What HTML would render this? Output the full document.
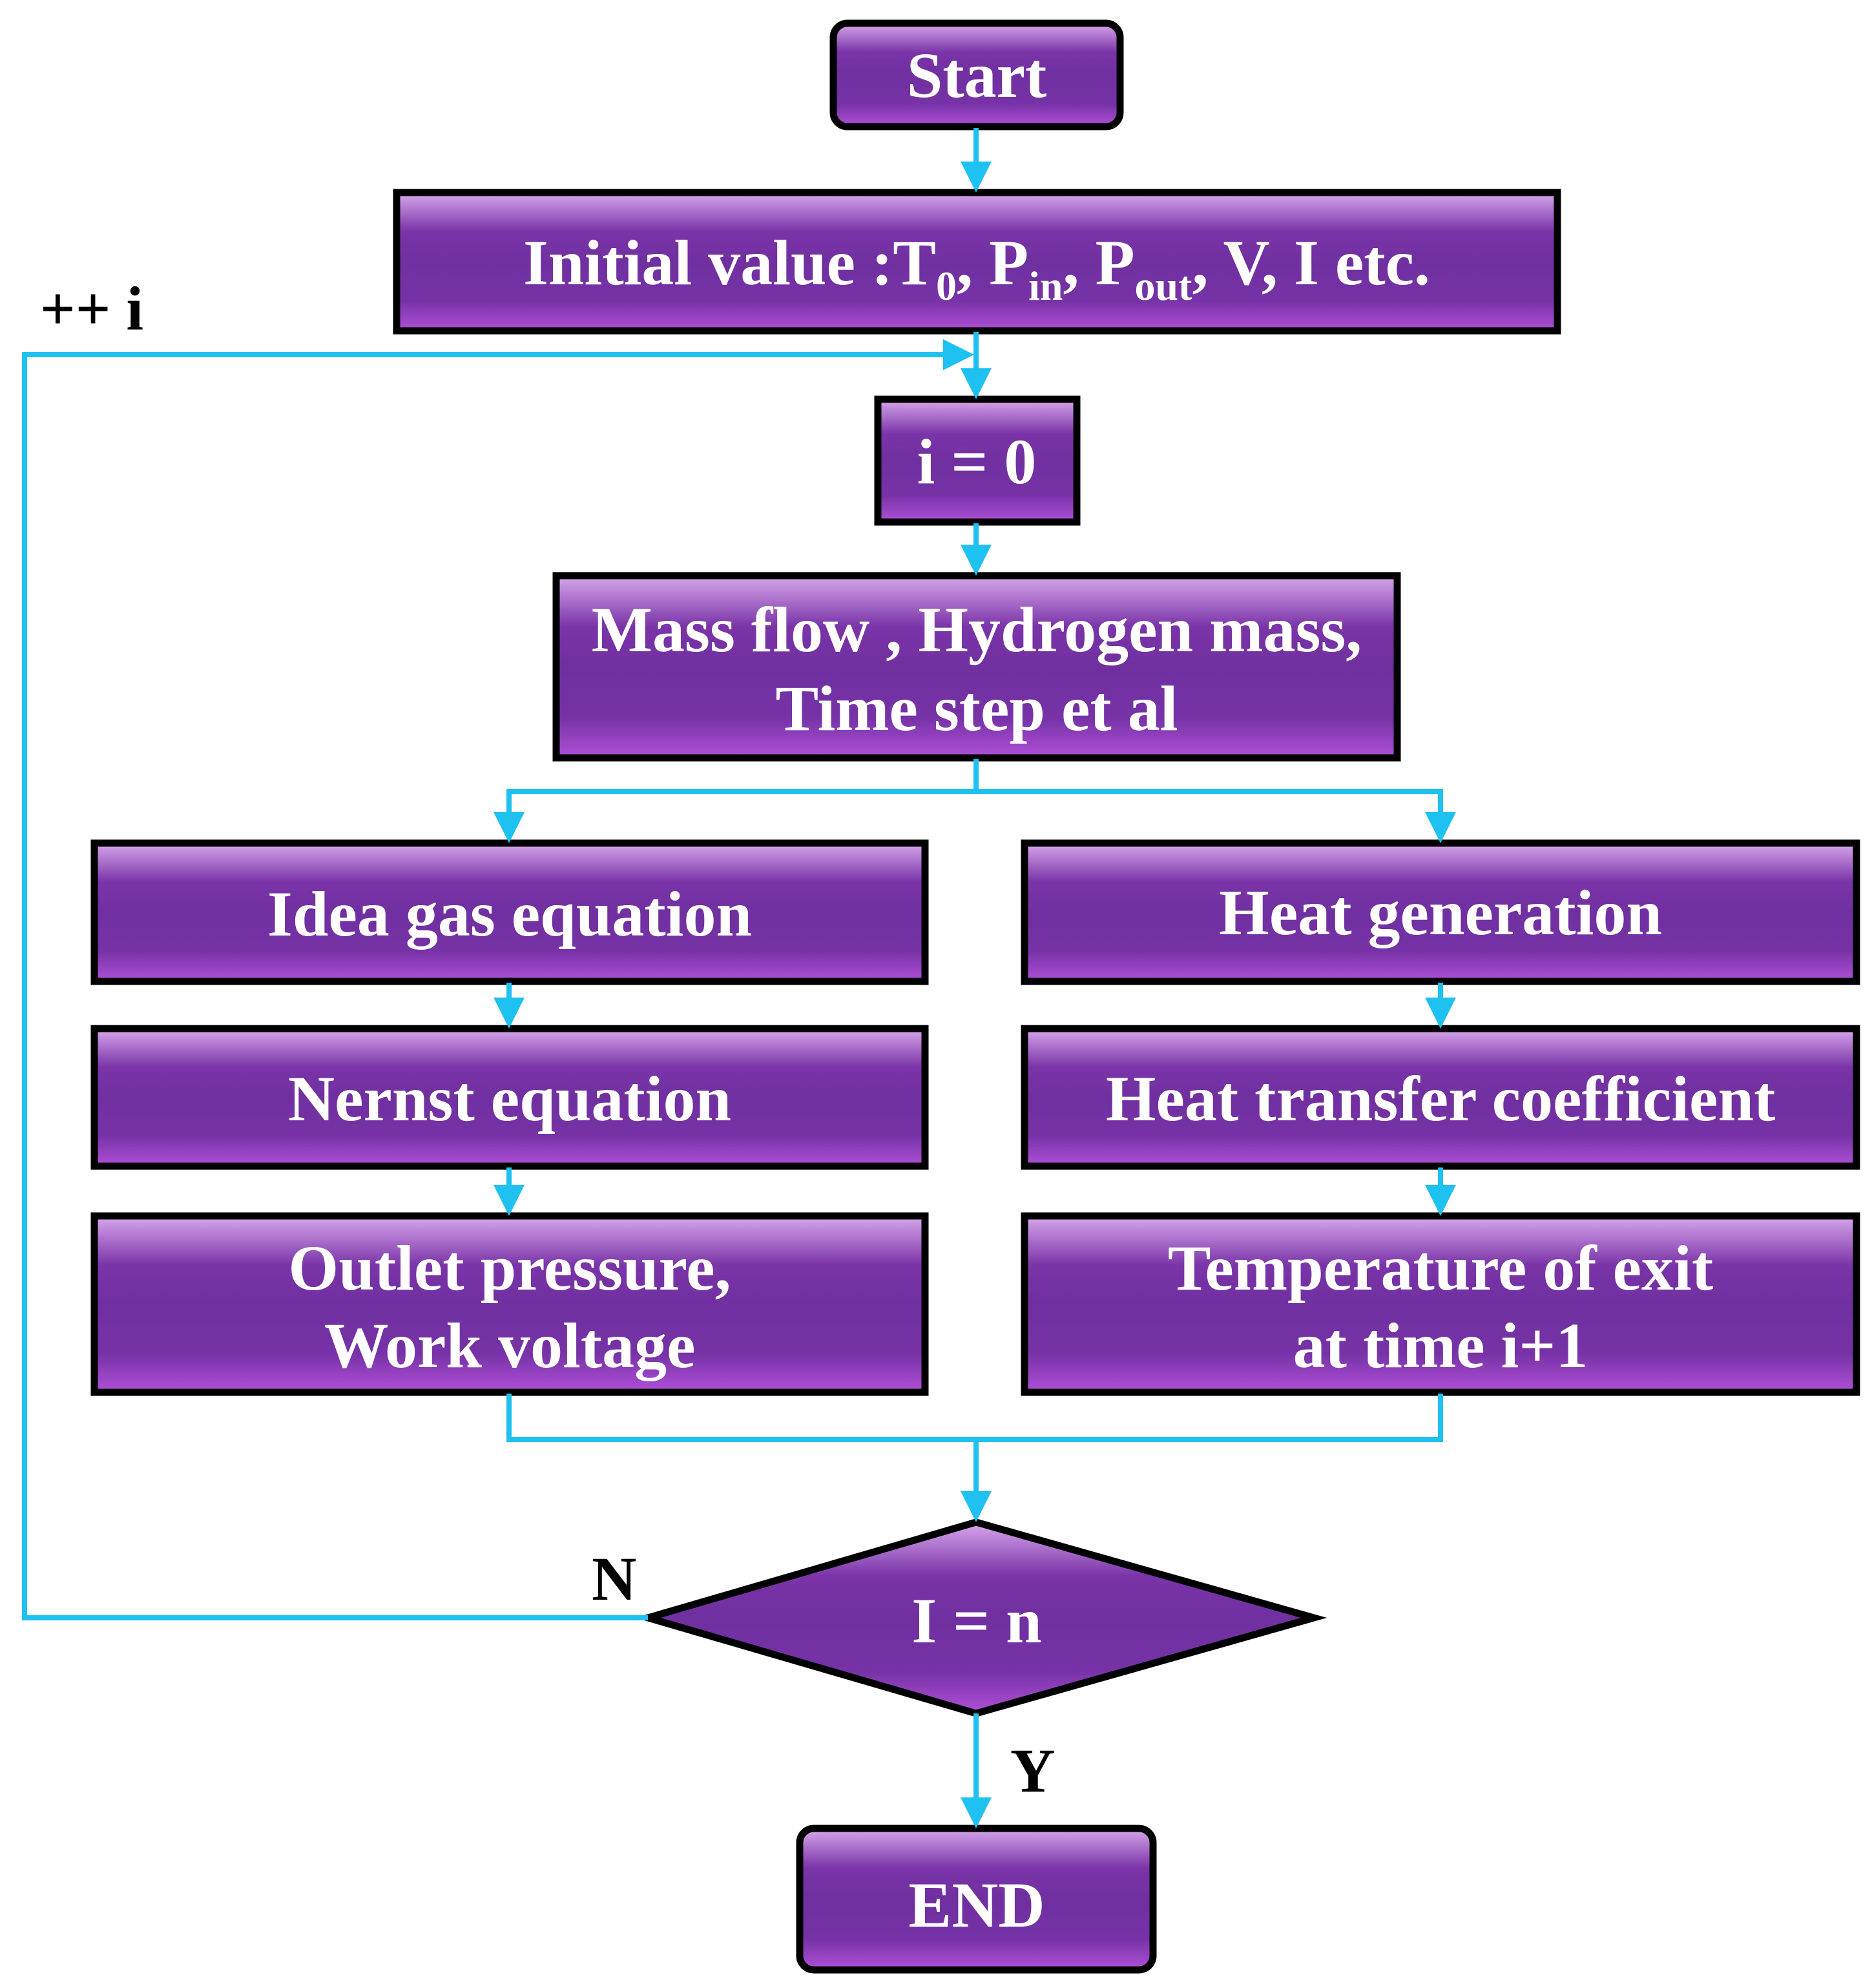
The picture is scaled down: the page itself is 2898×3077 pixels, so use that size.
<!DOCTYPE html>
<html><head><meta charset="utf-8"><style>
html,body{margin:0;padding:0;background:#fff;}
svg{display:block}
text{font-family:"Liberation Serif",serif;font-weight:bold;}
</style></head><body>
<svg width="2898" height="3077" viewBox="0 0 2898 3077" xmlns="http://www.w3.org/2000/svg">
<defs>
<linearGradient id="g" x1="0" y1="0" x2="0" y2="1">
<stop offset="0" stop-color="#d8a8ec"/>
<stop offset="0.28" stop-color="#7a34a8"/>
<stop offset="0.5" stop-color="#7030a0"/>
<stop offset="0.78" stop-color="#7632a6"/>
<stop offset="1" stop-color="#b050d8"/>
</linearGradient>
<marker id="a" markerWidth="6" markerHeight="6" refX="5" refY="3" orient="auto" markerUnits="strokeWidth">
<path d="M0,0 L6,3 L0,6 Z" fill="#1fc1f0"/>
</marker>
</defs>
<g fill="url(#g)" stroke="#000" stroke-width="11">
<rect x="1290" y="36" width="444" height="160" rx="22"/>
<rect x="614" y="298" width="1797" height="214"/>
<rect x="1359" y="618" width="308" height="190"/>
<rect x="861" y="891" width="1302" height="282"/>
<rect x="146" y="1305" width="1286" height="214"/>
<rect x="1586" y="1305" width="1288" height="214"/>
<rect x="146" y="1592" width="1286" height="213"/>
<rect x="1586" y="1592" width="1288" height="213"/>
<rect x="146" y="1882" width="1286" height="273"/>
<rect x="1586" y="1882" width="1288" height="273"/>
<polygon points="1511,2356 2034,2504 1511,2652 1003,2504"/>
<rect x="1238" y="2830" width="547" height="219" rx="22"/>
</g>
<g fill="none" stroke="#1fc1f0" stroke-width="8">
<line x1="1511" y1="198" x2="1511" y2="290" marker-end="url(#a)"/>
<line x1="1511" y1="514" x2="1511" y2="610" marker-end="url(#a)"/>
<polyline points="1003,2504 38,2504 38,549 1500,549" marker-end="url(#a)"/>
<line x1="1511" y1="810" x2="1511" y2="883" marker-end="url(#a)"/>
<polyline points="1511,1175 1511,1225 788,1225 788,1297" marker-end="url(#a)"/>
<polyline points="1511,1225 2230,1225 2230,1297" marker-end="url(#a)"/>
<line x1="788" y1="1521" x2="788" y2="1584" marker-end="url(#a)"/>
<line x1="2230" y1="1521" x2="2230" y2="1584" marker-end="url(#a)"/>
<line x1="788" y1="1807" x2="788" y2="1874" marker-end="url(#a)"/>
<line x1="2230" y1="1807" x2="2230" y2="1874" marker-end="url(#a)"/>
<polyline points="788,2157 788,2228 2230,2228 2230,2157"/>
<line x1="1511" y1="2228" x2="1511" y2="2348" marker-end="url(#a)"/>
<line x1="1511" y1="2652" x2="1511" y2="2822" marker-end="url(#a)"/>
</g>
<g fill="#fff" font-size="100" text-anchor="middle">
<text x="1512" y="150">Start</text>
<text x="1512" y="440">Initial value :T<tspan font-size="64" dy="24">0</tspan><tspan dy="-24">, P</tspan><tspan font-size="64" dy="24">in</tspan><tspan dy="-24">, P</tspan><tspan font-size="64" dy="24">out</tspan><tspan dy="-24">, V, I etc.</tspan></text>
<text x="1512" y="748">i = 0</text>
<text x="1512" y="1008">Mass flow , Hydrogen mass,</text>
<text x="1512" y="1130">Time step et al</text>
<text x="789" y="1448">Idea gas equation</text>
<text x="2230" y="1446">Heat generation</text>
<text x="789" y="1734">Nernst equation</text>
<text x="2230" y="1734">Heat transfer coefficient</text>
<text x="789" y="1996">Outlet pressure,</text>
<text x="789" y="2116">Work voltage</text>
<text x="2230" y="1996">Temperature of exit</text>
<text x="2230" y="2116">at time i+1</text>
<text x="1512" y="2542">I = n</text>
<text x="1512" y="2982">END</text>
</g>
<g fill="#000" font-size="96">
<text x="62" y="510">++ i</text>
<text x="916" y="2476">N</text>
<text x="1564" y="2773">Y</text>
</g>
</svg>
</body></html>
